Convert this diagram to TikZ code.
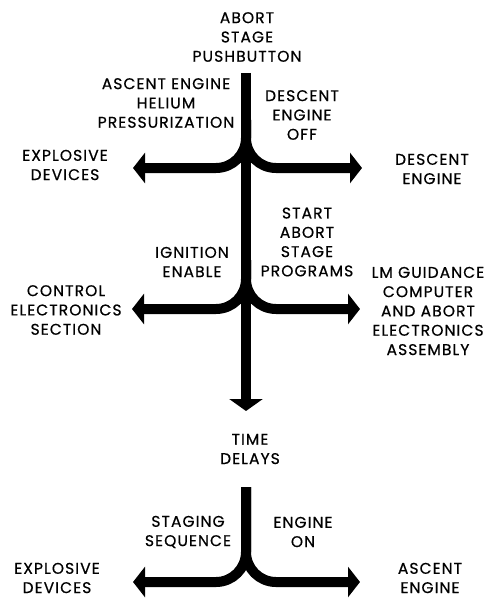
\documentclass[tikz,border=0pt]{standalone}
\usepackage{fontspec}
\setmainfont{Poppins}[LetterSpace=7,FakeBold=0.6]
\usetikzlibrary{arrows.meta}
\tikzset{
  lbl/.style={align=center,inner sep=0pt,font=\fontsize{15.5}{19.3}\selectfont},
  flow/.style={line width=10pt,rounded corners=30pt,-{Triangle[length=12pt,width=30pt]}},
  trunk/.style={line width=10pt,-{Triangle[length=12pt,width=33pt]}}
}
\begin{document}
\begin{tikzpicture}[x=1pt,y=-1pt]
        \useasboundingbox (0,0) rectangle (487,599);
        % labels
        \node[lbl] (push) at (247,37) {ABORT\\STAGE\\PUSHBUTTON};
        \node[lbl] (helium) at (166,103) {ASCENT ENGINE\\HELIUM\\PRESSURIZATION};
        \node[lbl] (deoff) at (302,115) {DESCENT\\ENGINE\\OFF};
        \node[lbl] (expl1) at (65,165) {EXPLOSIVE\\DEVICES};
        \node[lbl] (deseng) at (432,169) {DESCENT\\ENGINE};
        \node[lbl] (startp) at (307,242) {START\\ABORT\\STAGE\\PROGRAMS};
        \node[lbl] (ignen) at (192,262) {IGNITION\\ENABLE};
        \node[lbl] (ces) at (66,310) {CONTROL\\ELECTRONICS\\SECTION};
        \node[lbl] (lmg) at (428,311) {LM GUIDANCE\\COMPUTER\\AND ABORT\\ELECTRONICS\\ASSEMBLY};
        \node[lbl] (delay) at (250,449) {TIME\\DELAYS};
        \node[lbl] (stseq) at (188,532) {STAGING\\SEQUENCE};
        \node[lbl] (engon) at (303,532) {ENGINE\\ON};
        \node[lbl] (expl2) at (57,578) {EXPLOSIVE\\DEVICES};
        \node[lbl] (asceng) at (430,578) {ASCENT\\ENGINE};
        % trunk points and arrow tips
        \coordinate (top1) at (246,73);
        \coordinate (end1) at (246,411);
        \coordinate (fork1) at (246,120);
        \coordinate (fork2) at (246,260);
        \coordinate (top2) at (246,487);
        \coordinate (tipA) at (133,168);
        \coordinate (tipB) at (362,168);
        \coordinate (tipC) at (132,309);
        \coordinate (tipD) at (360,309);
        \coordinate (tipE) at (133,582);
        \coordinate (tipF) at (360,582);
        % arrows
        \draw[trunk] (top1) -- (end1);
        \draw[flow] (fork1) |- (tipA);
        \draw[flow] (fork1) |- (tipB);
        \draw[flow] (fork2) |- (tipC);
        \draw[flow] (fork2) |- (tipD);
        \draw[flow] (top2) |- (tipE);
        \draw[flow] (top2) |- (tipF);
\end{tikzpicture}
\end{document}
